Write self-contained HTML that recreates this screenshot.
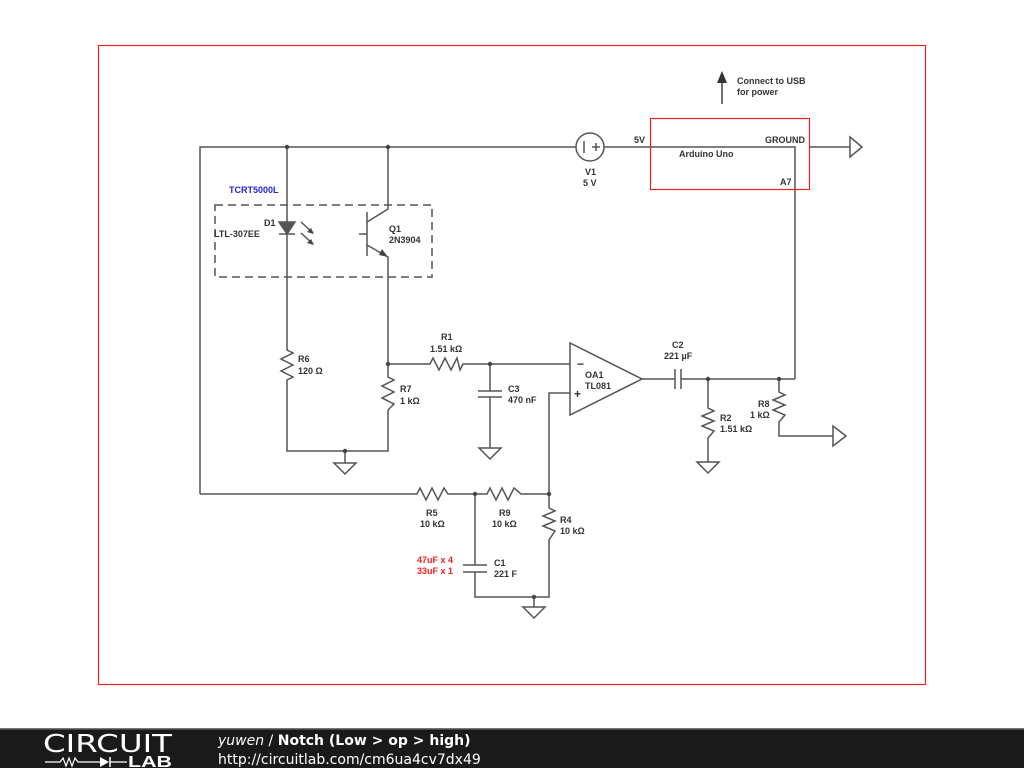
<!DOCTYPE html>
<html><head><meta charset="utf-8"><style>
body{margin:0;width:1024px;height:768px;background:#fff;overflow:hidden;position:relative;font-family:"Liberation Sans",sans-serif}
svg{position:absolute;left:0;top:0}
.t{font-family:"Liberation Sans",sans-serif;font-size:9px;font-weight:bold;fill:#333}
</style></head><body>
<svg width="1024" height="768" viewBox="0 0 1024 768">
<rect x="98.5" y="45.5" width="827" height="639" fill="none" stroke="#e22" stroke-width="1.2"/>
<g stroke="#555" stroke-width="1.5" fill="none">
<polyline points="200,494 200,147 576,147"/>
<polyline points="604,147 795,147 795,379"/>
<line x1="810" y1="147" x2="850" y2="147"/>
<polygon points="850,137 862,147 850,157"/>
<circle cx="590" cy="147" r="14"/>
<line x1="584" y1="141" x2="584" y2="153"/><line x1="592" y1="147" x2="600" y2="147"/><line x1="596" y1="143" x2="596" y2="151"/>
<line x1="287" y1="147" x2="287" y2="348"/>
<polygon points="279,222 295,222 287,234" fill="#555"/>
<line x1="279" y1="234" x2="295" y2="234"/>
<line x1="301" y1="222" x2="313" y2="233"/><line x1="301" y1="233" x2="313" y2="244"/>
<polyline points="388,147 388,209 367,222"/>
<line x1="367" y1="212" x2="367" y2="256"/>
<line x1="359" y1="234" x2="367" y2="234"/>
<polyline points="367,245 388,257 388,364"/>
<polyline points="287,348 287,350 293,353 281,359 293,365 281,371 293,377 287,380 287,451 388,451 388,410"/>
<polyline points="388,364 388,377 394,380 382,386 394,392 382,398 394,404 388,410"/>
<line x1="345" y1="451" x2="345" y2="463"/><polygon points="334,463 356,463 345,474"/>
<polyline points="388,364 430,364 433,358 439,370 445,358 451,370 457,358 460,370 463,364 570,364"/>
<line x1="490" y1="364" x2="490" y2="391"/>
<line x1="478" y1="391" x2="502" y2="391"/><line x1="478" y1="397" x2="502" y2="397"/>
<line x1="490" y1="397" x2="490" y2="448"/><polygon points="479,448 501,448 490,459"/>
<polygon points="570,343 570,415 642,379"/>
<polyline points="570,393 549,393 549,508"/>
<line x1="642" y1="379" x2="675" y2="379"/>
<line x1="675" y1="369" x2="675" y2="389"/><line x1="681" y1="369" x2="681" y2="389"/>
<line x1="681" y1="379" x2="795" y2="379"/>
<polyline points="708,379 708,408 714,411 702,416 714,421 702,426 714,431 708,438 708,462"/>
<polygon points="697,462 719,462 708,473"/>
<polyline points="779,379 779,392 785,395 773,400 785,405 773,410 785,415 779,422 779,436 833,436"/>
<polygon points="833,426 846,436 833,446"/>
<polyline points="200,494 417,494 420,488 426,500 432,488 438,500 444,488 448,494 487,494 490,488 496,500 502,488 508,500 514,488 521,494 549,494"/>
<polyline points="549,508 555,511 543,516 555,521 543,526 555,531 549,540 549,597 475,597 475,572"/>
<line x1="475" y1="494" x2="475" y2="565"/>
<line x1="463" y1="565" x2="487" y2="565"/><line x1="463" y1="572" x2="487" y2="572"/>
<line x1="534" y1="597" x2="534" y2="607"/><polygon points="523,607 545,607 534,618"/>
<rect x="215" y="205" width="217" height="72" stroke-dasharray="8,5"/>
</g>
<g fill="#444">
<polygon points="314,234 307,232 311,228"/><polygon points="314,245 307,243 311,239"/>
<polygon points="388,257 379,255 382,249"/>
<circle cx="287" cy="147" r="2.2"/><circle cx="388" cy="147" r="2.2"/><circle cx="388" cy="364" r="2.2"/>
<circle cx="490" cy="364" r="2.2"/><circle cx="345" cy="451" r="2.2"/><circle cx="708" cy="379" r="2.2"/>
<circle cx="779" cy="379" r="2.2"/><circle cx="475" cy="494" r="2.2"/><circle cx="549" cy="494" r="2.2"/><circle cx="534" cy="597" r="2.2"/>
</g>
<line x1="722" y1="104" x2="722" y2="80" stroke="#444" stroke-width="1.5"/>
<polygon points="717,83 727,83 722,71" fill="#333"/>
<rect x="650.5" y="118.5" width="159" height="71" fill="none" stroke="#e22" stroke-width="1.2"/>
<g class="t">
<text x="737" y="84">Connect to USB</text><text x="737" y="95">for power</text>
<text x="634" y="143">5V</text><text x="765" y="143">GROUND</text>
<text x="679" y="157">Arduino Uno</text><text x="780" y="185">A7</text>
<text x="585" y="175">V1</text><text x="583" y="186">5 V</text>
<text x="229" y="193" style="fill:#22d">TCRT5000L</text>
<text x="264" y="226">D1</text><text x="214" y="237">LTL-307EE</text>
<text x="389" y="232">Q1</text><text x="389" y="243">2N3904</text>
<text x="298" y="362">R6</text><text x="298" y="374">120 Ω</text>
<text x="400" y="392">R7</text><text x="400" y="404">1 kΩ</text>
<text x="441" y="340">R1</text><text x="430" y="352">1.51 kΩ</text>
<text x="508" y="392">C3</text><text x="508" y="403">470 nF</text>
<text x="585" y="378">OA1</text><text x="585" y="389">TL081</text>
<text x="577" y="368" style="font-size:12px">−</text><text x="574" y="398" style="font-size:12px">+</text>
<text x="672" y="348">C2</text><text x="664" y="359">221 µF</text>
<text x="720" y="421">R2</text><text x="720" y="432">1.51 kΩ</text>
<text x="758" y="407">R8</text><text x="750" y="418">1 kΩ</text>
<text x="426" y="516">R5</text><text x="420" y="527">10 kΩ</text>
<text x="499" y="516">R9</text><text x="492" y="527">10 kΩ</text>
<text x="560" y="523">R4</text><text x="560" y="534">10 kΩ</text>
<text x="494" y="566">C1</text><text x="494" y="577">221 F</text>
<text x="417" y="563" style="fill:#e22">47uF x 4</text><text x="417" y="574" style="fill:#e22">33uF x 1</text>
</g>
<rect x="0" y="729" width="1024" height="39" fill="#1a1a1a"/>
<rect x="0" y="728" width="1024" height="1.5" fill="#777"/>
<text x="43" y="752" textLength="129" lengthAdjust="spacingAndGlyphs" style="font-family:'DejaVu Sans',sans-serif;font-size:25px;fill:#fff;font-weight:normal">CIRCUIT</text>
<polyline points="45,762 60,762 63,758 66,766 69,758 72,766 75,758 78,762 100,762" stroke="#fff" fill="none" stroke-width="1.2"/>
<polygon points="100,757 100,767 109,762" fill="#fff"/><line x1="110" y1="757" x2="110" y2="767" stroke="#fff" stroke-width="1.5"/>
<line x1="110" y1="762" x2="127" y2="762" stroke="#fff" stroke-width="1.2"/>
<text x="128" y="767" textLength="44" lengthAdjust="spacingAndGlyphs" style="font-family:'Liberation Sans',sans-serif;font-size:16px;fill:#fff;font-weight:bold">LAB</text>
<text x="218" y="745" style="font-family:'DejaVu Sans',sans-serif;font-size:14px;fill:#fff"><tspan font-style="italic">yuwen</tspan> / <tspan font-weight="bold">Notch (Low &gt; op &gt; high)</tspan></text>
<text x="218" y="764" style="font-family:'DejaVu Sans',sans-serif;font-size:14px;fill:#fff">http://circuitlab.com/cm6ua4cv7dx49</text>
</svg>
</body></html>
